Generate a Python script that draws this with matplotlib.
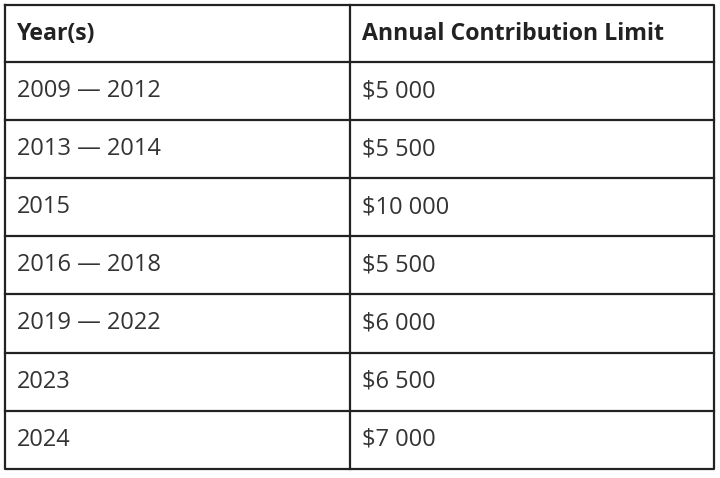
import matplotlib.pyplot as plt

headers = ["Year(s)", "Annual Contribution Limit"]
years = ["2009 — 2012", "2013 — 2014", "2015", "2016 — 2018",
         "2019 — 2022", "2023", "2024"]
limits = ["$5 000", "$5 500", "$10 000", "$5 500", "$6 000", "$6 500", "$7 000"]

plt.rcParams["font.family"] = ["Open Sans", "DejaVu Sans"]

fig = plt.figure(figsize=(7.2, 4.78), dpi=100)
ax = fig.add_axes([0, 0, 1, 1])
ax.set_xlim(0, 720)
ax.set_ylim(478, 0)
ax.axis("off")

left, mid, right = 5, 350, 714
top, head_h, row_h = 5, 57, 58.1
n = len(years)
bottom = top + head_h + n * row_h

lw = 1.6
ax.plot([left, right, right, left, left], [top, top, bottom, bottom, top],
        color="#222222", lw=lw)
ax.plot([mid, mid], [top, bottom], color="#222222", lw=lw)
for i in range(n):
    y = top + head_h + i * row_h
    ax.plot([left, right], [y, y], color="#222222", lw=lw)

pad = 12
fs = 17
yc = top + head_h / 2
ax.text(left + pad, yc, headers[0], fontsize=fs * 0.98, fontweight="bold",
        va="center", color="#222222")
ax.text(mid + pad, yc, headers[1], fontsize=fs * 0.98, fontweight="bold",
        va="center", color="#222222")
for i, (yr, lim) in enumerate(zip(years, limits)):
    yc = top + head_h + (i + 0.5) * row_h
    ax.text(left + pad, yc, yr, fontsize=fs, va="center", color="#333333")
    ax.text(mid + pad, yc, lim, fontsize=fs, va="center", color="#333333")

fig.savefig("out.png", dpi=100)
